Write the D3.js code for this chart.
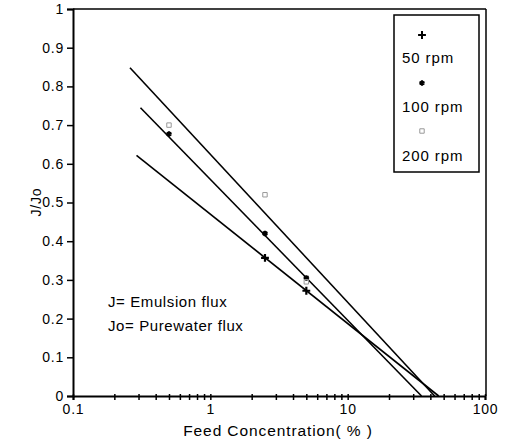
<!DOCTYPE html>
<html><head><meta charset="utf-8">
<script src="https://cdn.jsdelivr.net/npm/d3@7"></script>
<style>body{margin:0;background:#fff}svg{font-family:"Liberation Sans",Arial,sans-serif}</style>
</head><body><svg id="c" width="509" height="447"></svg>
<script>
// Data
const xTicks = [0.1, 1, 10, 100];
const yTicks = [0, 0.1, 0.2, 0.3, 0.4, 0.5, 0.6, 0.7, 0.8, 0.9, 1];
const series = ["50 rpm", "100 rpm", "200 rpm"];
const conc50 = [2.5, 5];
const val50 = [0.357, 0.272];
const conc100 = [0.5, 2.5, 5];
const val100 = [0.677, 0.42, 0.305];
const conc200 = [0.5, 2.5, 5];
const val200 = [0.70, 0.52, 0.295];
// fitted lines: [concentration, J/Jo] endpoints
const fit200 = [[0.26, 0.848], [43, 0]];
const fit100 = [[0.31, 0.745], [34.5, 0]];
const fit50 = [[0.29, 0.622], [46, 0]];

const svg = d3.select("#c");
const x = d3.scaleLog().domain([0.1, 100]).range([73, 485]);
const y = d3.scaleLinear().domain([0, 1]).range([396, 9]);

// frame
svg.append("line").attr("x1", x(0.1)).attr("x2", x(100)+1).attr("y1", y(1)).attr("y2", y(1)).attr("stroke", "#000").attr("stroke-width", 1.5);
svg.append("line").attr("x1", x(100)+1).attr("x2", x(100)+1).attr("y1", y(1)).attr("y2", y(0)).attr("stroke", "#000").attr("stroke-width", 1.5);

// axes
const xAxis = d3.axisBottom(x).tickValues(d3.range(-1, 2).flatMap(e => d3.range(1, 10).map(m => m * Math.pow(10, e))).concat([100]))
  .tickSize(4).tickFormat(d => xTicks.includes(d) ? String(d) : "");
const gx = svg.append("g").attr("transform", `translate(0,${y(0)})`).call(xAxis);
gx.select(".domain").attr("stroke-width", 2);
gx.selectAll(".tick line").attr("stroke-width", 1.5).attr("y1", -2);
gx.selectAll(".tick text").attr("font-size", 14).attr("letter-spacing", 0.8).attr("dy", "0.8em").attr("fill", "#000");

const gy = svg.append("g").attr("transform", `translate(${x(0.1)},0)`).call(d3.axisLeft(y).tickValues(yTicks).tickSize(6).tickFormat(d => d));
gy.select(".domain").attr("stroke-width", 2);
gy.selectAll(".tick line").attr("stroke-width", 1.5);
gy.selectAll(".tick text").attr("font-size", 14).attr("letter-spacing", 0.8).attr("fill", "#000").attr("x", -9);
svg.selectAll(".domain").attr("stroke", "#000");

// titles
svg.append("text").attr("x", 278).attr("y", 436).attr("text-anchor", "middle").attr("font-size", 15.5).attr("letter-spacing", 0.9).text("Feed Concentration( % )");
svg.append("text").attr("transform", "translate(41,202) rotate(-90)").attr("text-anchor", "middle").attr("font-size", 14).attr("letter-spacing", 0.8).text("J/Jo");

// fit lines
const line = d3.line().x(d => x(d[0])).y(d => y(d[1]));
[fit200, fit100, fit50].forEach(f => {
  svg.append("path").attr("d", line(f)).attr("fill", "none").attr("stroke", "#000").attr("stroke-width", 1.6);
});

// markers
const sym50 = d3.symbol().type(d3.symbolPlus).size(22);
const sym100 = d3.symbol().type(d3.symbolAsterisk).size(22);
const sym200 = d3.symbol().type(d3.symbolSquare2).size(25);
svg.selectAll(".p50").data(conc50).join("path").attr("d", sym50)
  .attr("transform", (d, i) => `translate(${x(d)},${y(val50[i])})`).attr("fill", "#000").attr("stroke", "#000").attr("stroke-width", 2.2);
svg.selectAll(".p100").data(conc100).join("path").attr("d", sym100)
  .attr("transform", (d, i) => `translate(${x(d)},${y(val100[i])})`).attr("fill", "none").attr("stroke", "#000").attr("stroke-width", 2.2);
svg.selectAll(".p200").data(conc200).join("path").attr("d", sym200)
  .attr("transform", (d, i) => `translate(${x(d)},${y(val200[i])})`).attr("fill", "none").attr("stroke", "#999").attr("stroke-width", 1);

// annotations
svg.append("text").attr("x", 108).attr("y", 307).attr("font-size", 15).attr("letter-spacing", 0.6).text("J= Emulsion flux");
svg.append("text").attr("x", 108).attr("y", 331).attr("font-size", 15).attr("letter-spacing", 0.6).text("Jo= Purewater flux");

// legend
const lg = svg.append("g");
lg.append("rect").attr("x", 394).attr("y", 15).attr("width", 85).attr("height", 157).attr("fill", "#fff").attr("stroke", "#000").attr("stroke-width", 1.5);
const legSyms = [sym50, sym100, sym200];
const legStroke = ["#000", "#000", "#999"];
series.forEach((s, i) => {
  lg.append("path").attr("d", legSyms[i]).attr("transform", `translate(422,${35 + i * 48})`)
    .attr("fill", i === 0 ? "#000" : "none").attr("stroke", legStroke[i]).attr("stroke-width", i === 2 ? 1 : 2);
  lg.append("text").attr("x", 402).attr("y", 63 + i * 49).attr("font-size", 15).attr("letter-spacing", 0.9).text(s);
});
</script></body></html>
